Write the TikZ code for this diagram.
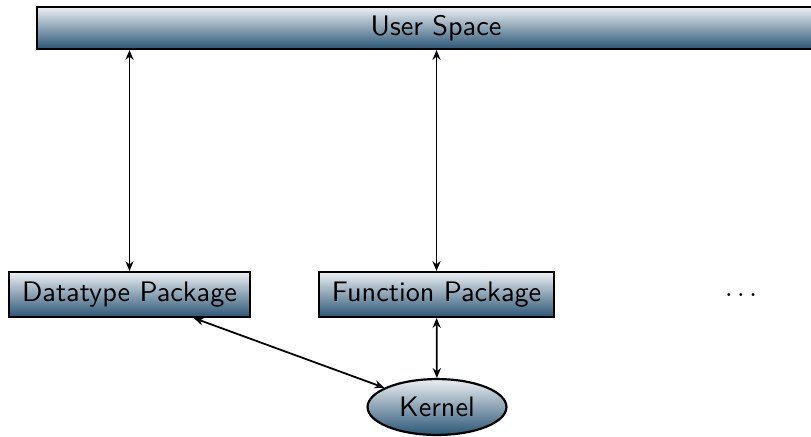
\documentclass[tikz,border=0pt]{standalone}
\usetikzlibrary{arrows.meta,shapes.geometric}
\renewcommand{\familydefault}{\sfdefault}
\definecolor{shadetop}{RGB}{236,239,242}
\definecolor{shadebot}{RGB}{42,86,118}
\begin{document}
\begin{tikzpicture}[x=0.365pt,y=-0.365pt,
  lbl/.style={font=\sffamily\fontsize{10.3}{12}\selectfont},
  layer/.style={lbl, draw=black, line width=0.8pt, rectangle, inner sep=0pt,
    top color=shadetop, bottom color=shadebot},
  kern/.style={lbl, draw=black, line width=0.8pt, ellipse, inner sep=0pt,
    top color=shadetop, bottom color=shadebot},
  link/.style={line width=0.65pt, {Stealth[length=3.6pt,width=3pt,inset=1.2pt]}-{Stealth[length=3.6pt,width=3pt,inset=1.2pt]}}]
  \useasboundingbox (0,0) rectangle (811,436);

  % layers
  \node[layer, minimum width=291.3pt, minimum height=15.3pt] (user) at (436,28) {User Space};
  \node[layer, minimum width=88pt, minimum height=16.4pt] (dtype) at (129.5,294.5) {Datatype Package};
  \node[layer, minimum width=85.8pt, minimum height=16.4pt] (func) at (436.5,294.5) {Function Package};
  \node[kern, minimum width=50.7pt, minimum height=20.4pt] (kernel) at (437,407) {Kernel};
  \node[lbl] (more) at (741,295) {$\ldots$};

  % connections
  \draw[link] (dtype.north) -- (dtype.north |- user.south);
  \draw[link] (func.north) -- (func.north |- user.south);
  \draw[link] (dtype) -- (kernel);
  \draw[link] (func) -- (kernel);
\end{tikzpicture}
\end{document}
